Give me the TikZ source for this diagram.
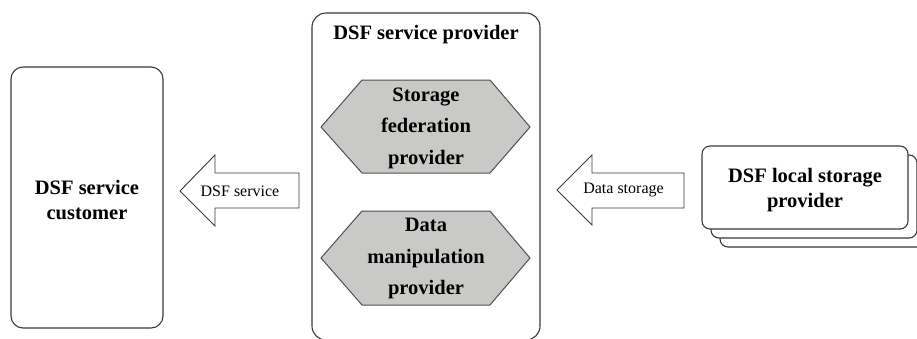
\documentclass[tikz,border=0pt]{standalone}
\usepackage{fontspec}
\setmainfont{Liberation Serif}
\begin{document}
\begin{tikzpicture}[x=1pt,y=-1pt,
  outline/.style={draw=linegray, line width=1.1pt, fill=white, inner sep=0pt},
  hexshape/.style={draw=hexline, line width=1pt, fill=hexfill},
  blockarrow/.style={draw=linegray, line width=0.9pt, fill=white},
  boldtxt/.style={font=\fontsize{20.5}{25}\selectfont\bfseries, align=center, inner sep=0pt},
  hextxt/.style={font=\fontsize{20.5}{31.5}\selectfont\bfseries, align=center, inner sep=0pt},
  smalltxt/.style={font=\fontsize{16}{19}\selectfont, inner sep=0pt}]
\definecolor{linegray}{RGB}{58,58,58}
\definecolor{hexline}{RGB}{80,80,80}
\definecolor{hexfill}{RGB}{201,201,199}
\clip (0,0) rectangle (917,338);
\fill[white] (0,0) rectangle (917,338);

% service customer
\node[outline, rounded corners=12pt, minimum width=152pt, minimum height=261pt] (cust) at (87,197.5) {};
\node[boldtxt] (custlbl) at (87,200) {DSF service\\customer};

% service provider container
\node[outline, rounded corners=14pt, minimum width=228pt, minimum height=327pt] (prov) at (426,176.5) {};
\node[boldtxt] (provlbl) at (426,35) {DSF service provider};

% storage federation provider
\draw[hexshape] (321,127) -- (362,80) -- (490,80) -- (530,127) -- (490,173) -- (362,173) -- cycle;
\node[hextxt] (sfp) at (426,128) {Storage\\federation\\provider};

% data manipulation provider
\draw[hexshape] (321,258) -- (362,211) -- (490,211) -- (530,258) -- (490,305) -- (362,305) -- cycle;
\node[hextxt] (dmp) at (426,258.5) {Data\\manipulation\\provider};

% local storage providers, stacked
\node[outline, rounded corners=8pt, minimum width=206pt, minimum height=83pt] (ls3) at (823,205.5) {};
\node[outline, rounded corners=8pt, minimum width=206pt, minimum height=83pt] (ls2) at (814,196.5) {};
\node[outline, rounded corners=8pt, minimum width=206pt, minimum height=83pt] (ls1) at (805,187.5) {};
\node[boldtxt] (lslbl) at (805,190) {DSF local storage\\provider};

% block arrows
\draw[blockarrow] (180,191) -- (215,155) -- (215,173) -- (299,173) -- (299,208) -- (215,208) -- (215,226) -- cycle;
\node[smalltxt] (svc) at (240,191) {DSF service};

\draw[blockarrow] (557,190) -- (592,155) -- (592,173) -- (684,173) -- (684,208) -- (592,208) -- (592,225) -- cycle;
\node[smalltxt] (stor) at (623.5,190) {Data storage};
\end{tikzpicture}
\end{document}
